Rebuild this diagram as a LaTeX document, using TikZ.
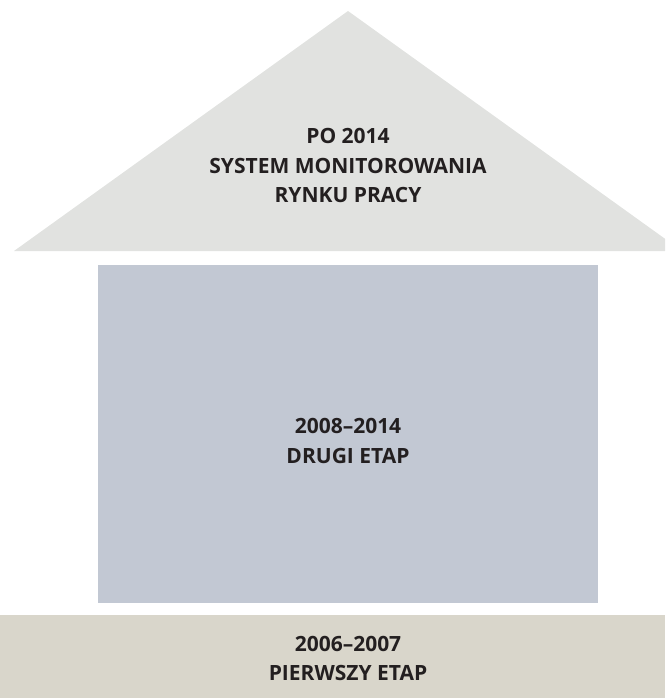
\documentclass[tikz,border=0pt]{standalone}
\usepackage{fontspec}
\setmainfont{Open Sans}[BoldFont={Open Sans Bold}]
\definecolor{roofc}{HTML}{E1E2E0}
\definecolor{wallc}{HTML}{C2C8D3}
\definecolor{basec}{HTML}{D9D6CB}
\definecolor{textc}{HTML}{231F20}
\tikzset{
  lbl/.style={align=center, inner sep=0pt, text=textc,
    font=\bfseries\fontsize{21}{29.5}\selectfont},
}
\begin{document}
\begin{tikzpicture}[x=1pt,y=-1pt]
\useasboundingbox (0,0) rectangle (665,698);
\begin{scope}
\clip (0,0) rectangle (665,698);
\fill[roofc] (14,251) -- (348,11) -- (682,251) -- cycle;
\end{scope}
\fill[wallc] (98,265) rectangle (598,603);
\fill[basec] (0,615) rectangle (665,698);
\node[lbl] (roof) at (348,165.5) {PO 2014\\SYSTEM MONITOROWANIA\\RYNKU PRACY};
\node[lbl] (wall) at (348,441) {2008–2014\\DRUGI ETAP};
\node[lbl] (base) at (348,658.5) {2006–2007\\PIERWSZY ETAP};
\end{tikzpicture}
\end{document}
